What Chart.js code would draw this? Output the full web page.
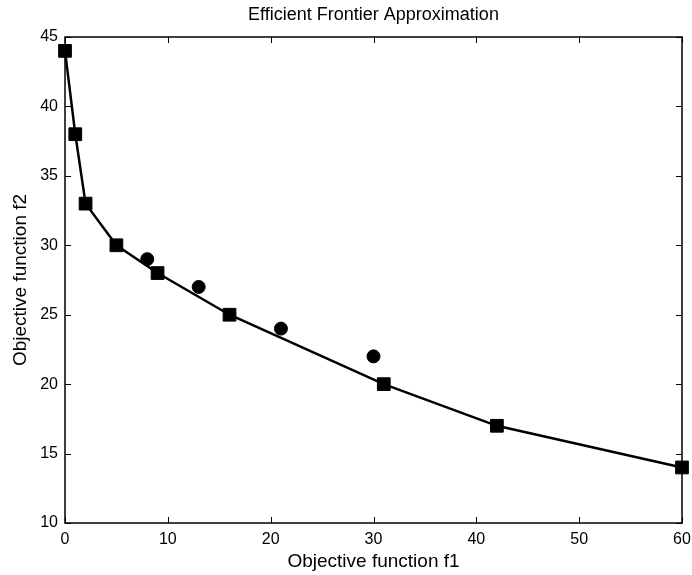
<!DOCTYPE html>
<html>
<head>
<meta charset="utf-8">
<script src="https://cdn.jsdelivr.net/npm/chart.js@4/dist/chart.umd.min.js"></script>
<style>
  html, body { margin: 0; padding: 0; background: #fff; }
  #wrap { width: 692px; height: 575px; }
</style>
</head>
<body>
<div id="wrap"><canvas id="chart" width="692" height="575"></canvas></div>
<script>
// frontier approximation (squares, joined)
const f1Frontier = [0, 1, 2, 5, 9, 16, 31, 42, 60];
const f2Frontier = [44, 38, 33, 30, 28, 25, 20, 17, 14];
// other points (circles)
const f1Other = [8, 13, 21, 30];
const f2Other = [29, 27, 24, 22];

const xTicks = [0, 10, 20, 30, 40, 50, 60];
const yTicks = [10, 15, 20, 25, 30, 35, 40, 45];

const FONT = "'Liberation Sans', Arial, Helvetica, sans-serif";

function toPoints(xs, ys) {
    return xs.map((x, i) => ({ x: x, y: ys[i] }));
}

// matlab style box with inward ticks on all four sides
const boxTicks = {
    id: "boxTicks",
    afterDraw(chart) {
        const ctx = chart.ctx;
        const a = chart.chartArea;
        const xs = chart.scales.x;
        const ys = chart.scales.y;
        const len = 6;
        ctx.save();
        ctx.strokeStyle = "#000";
        ctx.lineWidth = 1;
        ctx.beginPath();
        xTicks.forEach(v => {
            const px = Math.round(xs.getPixelForValue(v)) + 0.5;
            ctx.moveTo(px, a.bottom); ctx.lineTo(px, a.bottom - len);
            ctx.moveTo(px, a.top); ctx.lineTo(px, a.top + len);
        });
        yTicks.forEach(v => {
            const py = Math.round(ys.getPixelForValue(v)) + 0.5;
            ctx.moveTo(a.left, py); ctx.lineTo(a.left + len, py);
            ctx.moveTo(a.right, py); ctx.lineTo(a.right - len, py);
        });
        ctx.stroke();
        ctx.lineWidth = 1.5;
        ctx.strokeRect(a.left, a.top, a.right - a.left, a.bottom - a.top);
        ctx.restore();
    }
};

new Chart(document.getElementById("chart"), {
    type: "scatter",
    data: {
        datasets: [
            {
                label: "Frontier",
                data: toPoints(f1Frontier, f2Frontier),
                showLine: true,
                borderColor: "#000",
                backgroundColor: "#000",
                borderWidth: 2.5,
                pointStyle: "rect",
                pointRadius: 9,
                pointBorderWidth: 1,
                tension: 0,
                clip: false
            },
            {
                label: "Points",
                data: toPoints(f1Other, f2Other),
                showLine: false,
                borderColor: "#000",
                backgroundColor: "#000",
                pointStyle: "circle",
                pointRadius: 6.5,
                pointBorderWidth: 1,
                clip: false
            }
        ]
    },
    options: {
        responsive: false,
        animation: false,
        layout: { padding: { top: 0, right: 10, left: 0, bottom: 0 } },
        plugins: {
            legend: { display: false },
            tooltip: { enabled: false },
            title: {
                display: true,
                text: "Efficient Frontier Approximation",
                fullSize: false,
                color: "#000",
                font: { family: FONT, size: 18, weight: "normal" },
                padding: { top: 4, bottom: 11.4 }
            }
        },
        scales: {
            x: {
                type: "linear",
                min: 0,
                max: 60,
                grid: { display: false, drawTicks: false },
                border: { display: false },
                afterBuildTicks: s => { s.ticks = xTicks.map(v => ({ value: v })); },
                ticks: {
                    color: "#000",
                    padding: 7,
                    font: { family: FONT, size: 16 },
                    maxRotation: 0
                },
                title: {
                    display: true,
                    text: "Objective function f1",
                    color: "#000",
                    font: { family: FONT, size: 19 },
                    padding: { top: 0, bottom: 2 }
                },
                afterFit: s => {
                    s.height = 52;
                    s.paddingLeft = 0;
                    s.paddingRight = 0;
                }
            },
            y: {
                type: "linear",
                min: 10,
                max: 45,
                grid: { display: false, drawTicks: false },
                border: { display: false },
                afterBuildTicks: s => { s.ticks = yTicks.map(v => ({ value: v })); },
                ticks: {
                    color: "#000",
                    padding: 7,
                    font: { family: FONT, size: 16 }
                },
                title: {
                    display: true,
                    text: "Objective function f2",
                    color: "#000",
                    font: { family: FONT, size: 19 },
                    padding: { top: 9, bottom: 0 }
                },
                afterFit: s => {
                    s.width = 65;
                    s.paddingTop = 0;
                    s.paddingBottom = 0;
                }
            }
        }
    },
    plugins: [boxTicks]
});
</script>
</body>
</html>
